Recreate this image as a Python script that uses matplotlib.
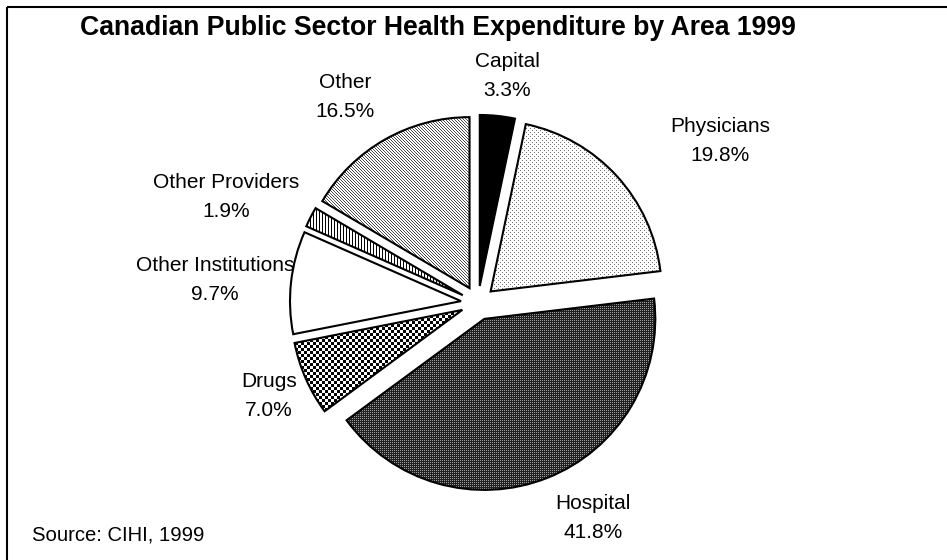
import numpy as np
import matplotlib
matplotlib.use("Agg")
import matplotlib.pyplot as plt

# ---- data -------------------------------------------------------------
categories = ["Capital", "Physicians", "Hospital", "Drugs",
              "Other Institutions", "Other Providers", "Other"]
shares = [3.3, 19.8, 41.8, 7.0, 9.7, 1.9, 16.5]
title = "Canadian Public Sector Health Expenditure by Area 1999"
source = "Source: CIHI, 1999"

# ---- canvas (1 data unit == 1 pixel, y measured from the bottom) -------
W, H = 947, 560
plt.rcParams["font.family"] = ["Liberation Sans", "DejaVu Sans"]

fig = plt.figure(figsize=(W / 100, H / 100), dpi=100)
ax = fig.add_axes([0, 0, 1, 1])
ax.axis("off")


def px(x, y):
    """Pixel position (origin top-left) -> data position."""
    return x, H - y


center = px(478, 303)
radius = 171
explode_frac = [0.1] * len(shares)
# pie() offsets wedges in data units, so scale by the radius
explode = [f * radius for f in explode_frac]
common = dict(startangle=90, counterclock=False, center=center,
              radius=radius, explode=explode)

# base wedges (white), textures are clipped into them afterwards
base, _ = ax.pie(shares, colors=["white"] * len(shares),
                 wedgeprops=dict(linewidth=0), **common)


# ---- monochrome fill textures -----------------------------------------
def tile_checker(n):
    a = np.ones((2 * n, 2 * n))
    a[:n, n:] = 0
    a[n:, :n] = 0
    return a


def tile_diag(period, ink):
    a = np.ones((period, period))
    for r in range(period):
        a[r, r] = ink
    return a


tiles = {
    "Capital": np.zeros((1, 1)),
    "Physicians": np.array([[0.45, 1, 1, 1],
                            [1, 1, 1, 1],
                            [1, 1, 0.45, 1],
                            [1, 1, 1, 1]]),
    "Hospital": np.array([[0.62, 0.13],
                          [0.13, 0.13]]),
    "Drugs": tile_checker(3),
    "Other Institutions": np.ones((1, 1)),
    "Other Providers": np.array([[0, 1, 1]]),
    "Other": tile_diag(3, 0.3),
}


def fill_with_tile(wedge, tile):
    v = wedge.get_path().vertices
    x0, y0 = np.floor(v.min(0)) - 2
    x1, y1 = np.ceil(v.max(0)) + 2
    th, tw = tile.shape
    ny = int((y1 - y0) // th + 1)
    nx = int((x1 - x0) // tw + 1)
    img = np.tile(tile, (ny, nx))
    im = ax.imshow(img, cmap="gray", vmin=0, vmax=1, origin="upper",
                   interpolation="nearest",
                   extent=(x0, x0 + nx * tw, y0, y0 + ny * th), zorder=1.5)
    im.set_clip_path(wedge)


for w, name in zip(base, categories):
    fill_with_tile(w, tiles[name])

# outlines on top
outline, _ = ax.pie(shares, wedgeprops=dict(fill=False, edgecolor="black",
                                            linewidth=1.5), **common)
for w in outline:
    w.set_zorder(3)

# ---- labels -----------------------------------------------------------
label_pos = {
    "Capital": (507, 76),
    "Physicians": (720, 141),
    "Hospital": (593, 518),
    "Drugs": (269, 396),
    "Other Institutions": (215, 280),
    "Other Providers": (226, 197),
    "Other": (345, 97),
}
for name, val in zip(categories, shares):
    x, y = px(*label_pos[name])
    ax.text(x, y, f"{name}\n{val:.1f}%", ha="center", va="center",
            fontsize=15, linespacing=1.72, color="black", zorder=4)

ax.text(*px(438, 28), title, ha="center", va="center", fontsize=19.2,
        fontweight="bold", color="black")
ax.text(*px(32, 535), source, ha="left", va="center", fontsize=14.6,
        color="black")

# frame lines (top and left)
ax.plot([7, W], [H - 7, H - 7], color="black", lw=1.5, clip_on=False,
        solid_capstyle="butt")
ax.plot([7, 7], [H - 7, 0], color="black", lw=1.5, clip_on=False,
        solid_capstyle="butt")

ax.set_xlim(0, W)
ax.set_ylim(0, H)
ax.set_aspect("auto")

fig.savefig("out.png", dpi=100)
